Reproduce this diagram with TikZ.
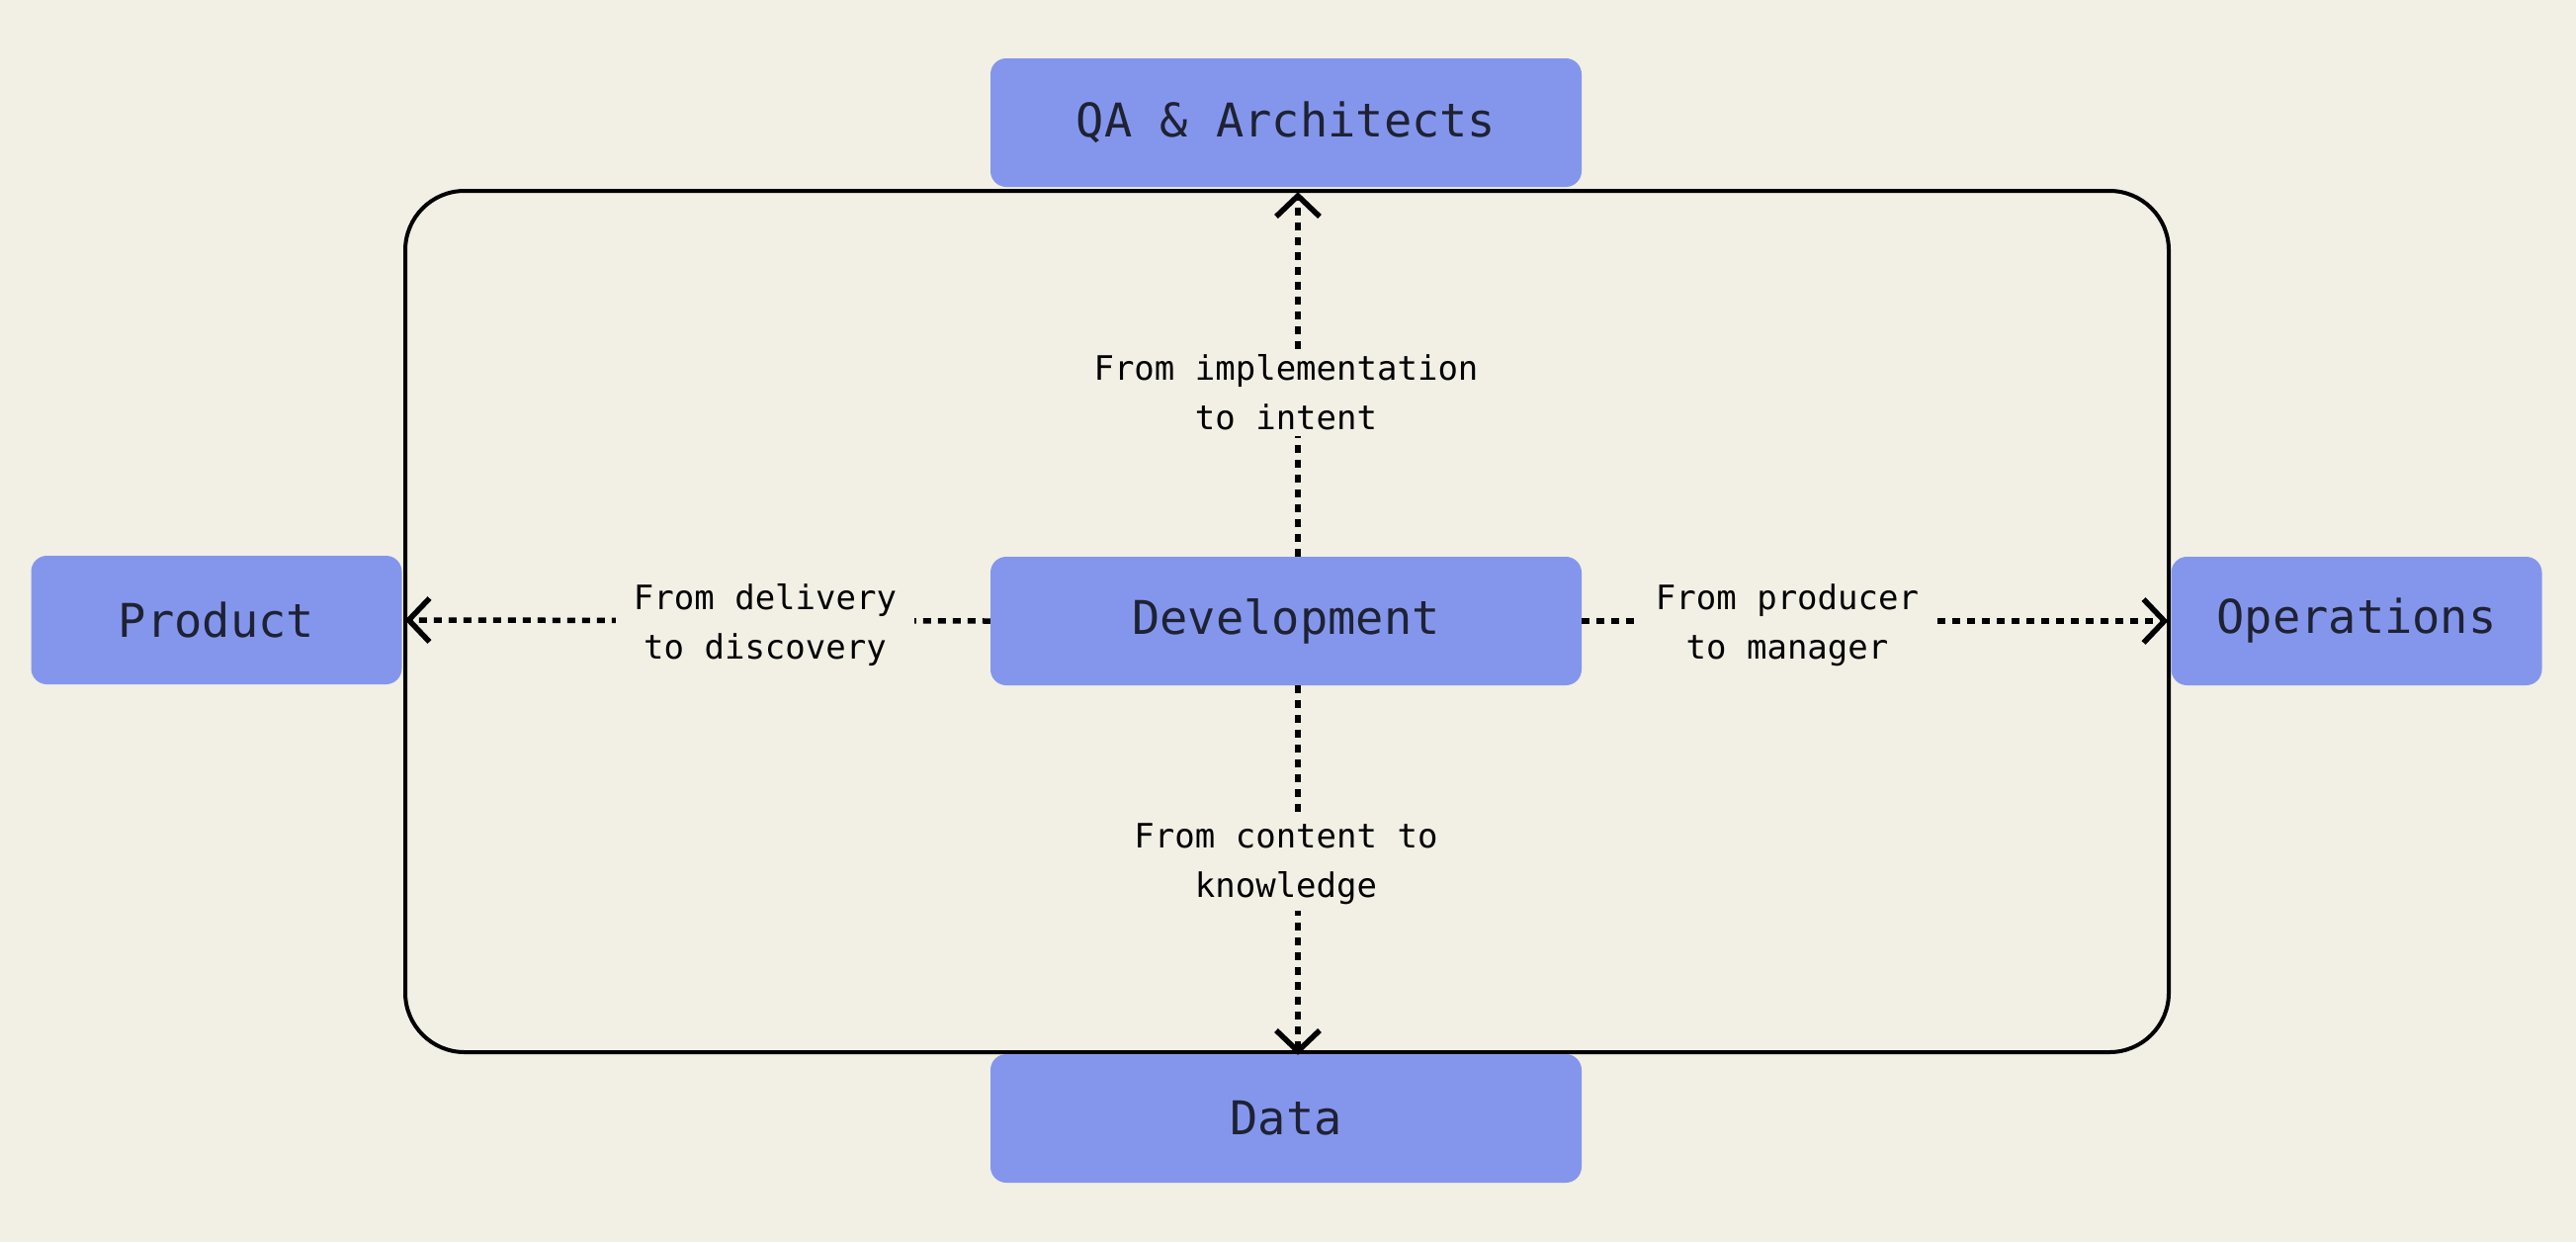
\documentclass[tikz,border=0pt]{standalone}
\usepackage{fontspec}
\setmonofont{DejaVu Sans Mono}
\usetikzlibrary{arrows.meta}
\definecolor{bgc}{HTML}{F2EFE5}
\definecolor{boxc}{HTML}{8496EC}
\definecolor{txtc}{HTML}{1E2233}
\begin{document}
\begin{tikzpicture}[x=1pt,y=-1pt,
  box/.style={fill=boxc,rounded corners=16pt,minimum width=598pt,minimum height=130pt,
    inner sep=0pt,text=txtc,font=\ttfamily\fontsize{47}{56}\selectfont},
  sidebox/.style={box,minimum width=375pt},
  lbl/.style={fill=bgc,align=center,inner xsep=18pt,inner ysep=6pt,text=black,
    font=\ttfamily\fontsize{34}{50}\selectfont},
  conn/.style={line width=5.5pt,dash pattern=on 8pt off 7pt,
    -{Straight Barb[length=21pt,width=44pt,line width=5.5pt]}}]
\fill[bgc] (0,0) rectangle (2606,1256);
\useasboundingbox (0,0) rectangle (2606,1256);
\draw[line width=4pt,rounded corners=60pt] (410,193) rectangle (2194,1064);
\node[box] (qa) at (1301,124) {QA \& Architects};
\node[box] (dev) at (1301,628) {Development};
\node[box] (data) at (1301,1131) {Data};
\node[sidebox] (prod) at (219,627) {Product};
\node[sidebox] (ops) at (2384,628) {Operations};
\draw[conn] ([xshift=12pt]dev.north) -- ([xshift=12pt,yshift=-5pt]qa.south);
\draw[conn] ([xshift=12pt]dev.south) -- ([xshift=12pt,yshift=-1pt]data.north);
\draw[conn] (dev.west) -- ([xshift=3pt]prod.east);
\draw[conn] (dev.east) -- ([xshift=-3pt]ops.west);
\node[lbl] (l1) at (1301,397) {From implementation\\to intent};
\node[lbl] (l2) at (774,632) {From delivery\\to discovery};
\node[lbl] (l3) at (1808,632) {From producer\\to manager};
\node[lbl] (l4) at (1301,874) {From content to\\knowledge};
\end{tikzpicture}
\end{document}
